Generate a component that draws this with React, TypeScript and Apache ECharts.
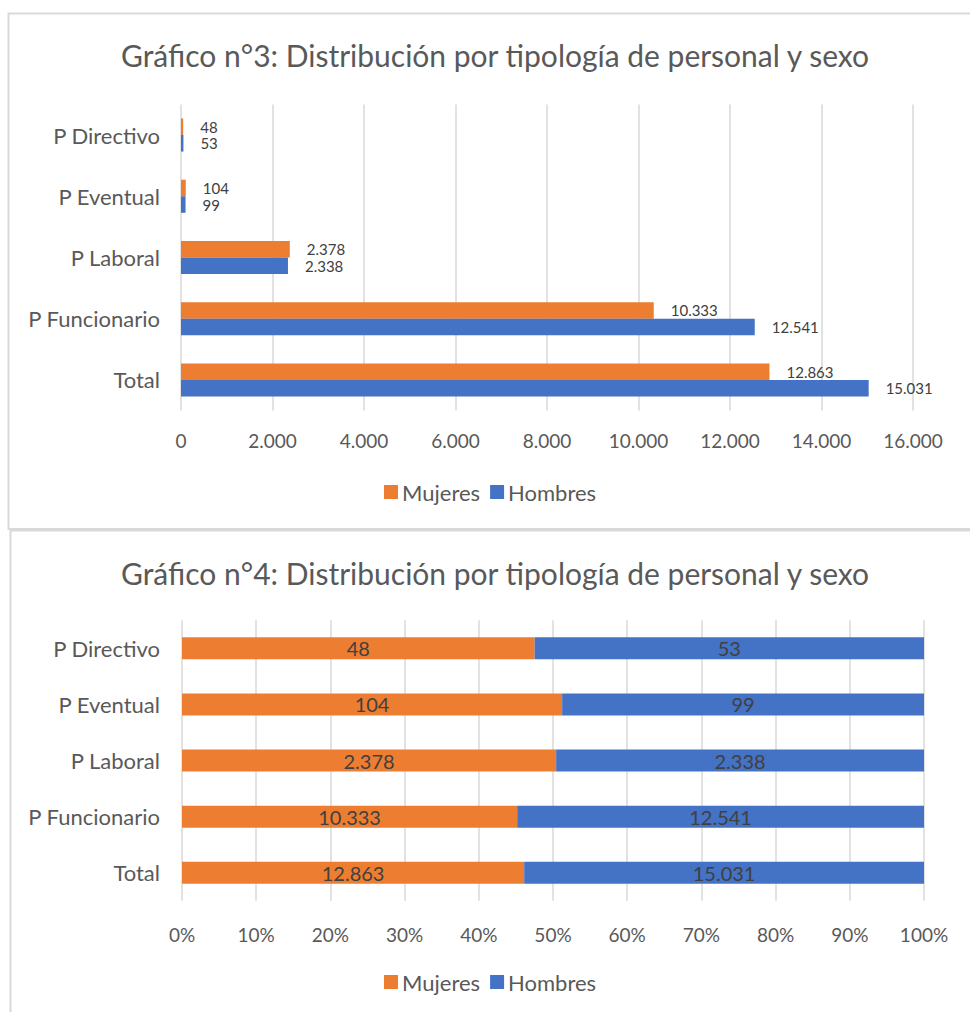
import React, { useEffect, useRef } from "react";
import * as echarts from "echarts";

const categories = ["P Directivo", "P Eventual", "P Laboral", "P Funcionario", "Total"];
const mujeres = [48, 104, 2378, 10333, 12863];
const hombres = [53, 99, 2338, 12541, 15031];
const countTicks = { min: 0, max: 16000, interval: 2000 };
const pctTicks = { min: 0, max: 100, interval: 10 };
const title3 = "Gráfico n°3: Distribución por tipología de personal y sexo";
const title4 = "Gráfico n°4: Distribución por tipología de personal y sexo";
const seriesNames = ["Mujeres", "Hombres"];

const ORANGE = "#ED7D31";
const BLUE = "#4472C4";
const TEXT = "#595959";
const GRID = "#D9D9D9";
const FONT = "Lato, 'Open Sans', sans-serif";

const fmt = (n: number) => String(n).replace(/\B(?=(\d{3})+(?!\d))/g, ".");

const mujeresPct = mujeres.map((m, i) => (m / (m + hombres[i])) * 100);
const hombresPct = hombres.map((h, i) => (h / (mujeres[i] + hombres[i])) * 100);

export default function App() {
  const ref = useRef<HTMLDivElement>(null);
  useEffect(() => {
    if (!ref.current) return;
    const chart = echarts.init(ref.current, null, { renderer: "svg" });
    const axisLabelStyle = { color: TEXT, fontSize: 19, fontFamily: FONT };
    const legendBase = {
      data: seriesNames, left: 379, itemWidth: 14, itemHeight: 14, itemGap: 10,
      icon: "rect", textStyle: { color: TEXT, fontSize: 22, fontFamily: FONT, padding: [0, 0, 0, -1] },
    };
    const titleStyle = { color: TEXT, fontSize: 30, fontWeight: "normal", fontFamily: FONT };
    chart.setOption({
      animation: false,
      backgroundColor: "#fff",
      textStyle: { fontFamily: FONT },
      graphic: [
        { type: "rect", shape: { x: 8.5, y: 13.5, width: 980, height: 515.5 }, style: { fill: "none", stroke: GRID, lineWidth: 2 } },
        { type: "rect", shape: { x: 10.5, y: 530.5, width: 980, height: 520 }, style: { fill: "none", stroke: GRID, lineWidth: 2 } },
      ],
      title: [
        { text: title3, left: 116, top: 35, textStyle: titleStyle },
        { text: title4, left: 116, top: 553, textStyle: titleStyle },
      ],
      legend: [
        { ...legendBase, top: 476 },
        { ...legendBase, top: 966 },
      ],
      grid: [
        { left: 181, right: 57, top: 104.4, height: 306.2 },
        { left: 182, right: 46, top: 620.3, height: 280.5 },
      ],
      xAxis: [
        {
          gridIndex: 0, type: "value", ...countTicks,
          axisLine: { show: false }, axisTick: { show: false },
          splitLine: { show: true, lineStyle: { color: GRID, width: 1.5 } },
          axisLabel: { ...axisLabelStyle, margin: 20, formatter: (v: number) => fmt(v) },
        },
        {
          gridIndex: 1, type: "value", ...pctTicks,
          axisLine: { show: false }, axisTick: { show: false },
          splitLine: { show: true, lineStyle: { color: GRID, width: 1.5 } },
          axisLabel: { ...axisLabelStyle, margin: 24, formatter: "{value}%" },
        },
      ],
      yAxis: [
        {
          gridIndex: 0, type: "category", data: categories, inverse: true,
          axisLine: { show: false }, axisTick: { show: false },
          axisLabel: { color: TEXT, fontSize: 22, fontFamily: FONT, margin: 21 },
        },
        {
          gridIndex: 1, type: "category", data: categories, inverse: true,
          axisLine: { show: false }, axisTick: { show: false },
          axisLabel: { color: TEXT, fontSize: 22, fontFamily: FONT, margin: 22 },
        },
      ],
      series: [
        {
          name: seriesNames[0], type: "bar", xAxisIndex: 0, yAxisIndex: 0, data: mujeres,
          itemStyle: { color: ORANGE }, barGap: "0%", barCategoryGap: "46%",
          label: { show: true, position: "right", distance: 17, color: "#404040", fontSize: 15, fontFamily: FONT, formatter: (p: any) => fmt(p.value) },
        },
        {
          name: seriesNames[1], type: "bar", xAxisIndex: 0, yAxisIndex: 0, data: hombres,
          itemStyle: { color: BLUE }, barGap: "0%", barCategoryGap: "46%",
          label: { show: true, position: "right", distance: 17, color: "#404040", fontSize: 15, fontFamily: FONT, formatter: (p: any) => fmt(p.value) },
        },
        {
          name: seriesNames[0], type: "bar", xAxisIndex: 1, yAxisIndex: 1, stack: "pct", data: mujeresPct,
          itemStyle: { color: ORANGE }, barWidth: 22,
          label: { show: true, position: "inside", color: "#404040", fontSize: 20, fontFamily: FONT, formatter: (p: any) => fmt(mujeres[p.dataIndex]) },
        },
        {
          name: seriesNames[1], type: "bar", xAxisIndex: 1, yAxisIndex: 1, stack: "pct", data: hombresPct,
          itemStyle: { color: BLUE }, barWidth: 22,
          label: { show: true, position: "inside", color: "#404040", fontSize: 20, fontFamily: FONT, formatter: (p: any) => fmt(hombres[p.dataIndex]) },
        },
      ],
    });
    return () => chart.dispose();
  }, []);
  return <div ref={ref} style={{ position: "absolute", left: 0, top: 0, width: 970, height: 1012 }} />;
}
